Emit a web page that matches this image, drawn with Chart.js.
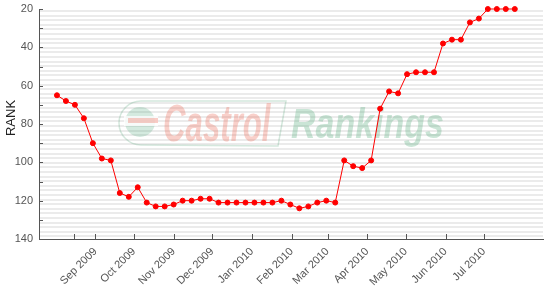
<!DOCTYPE html>
<html>
<head>
<meta charset="utf-8">
<script src="https://cdn.jsdelivr.net/npm/chart.js@4.4.1/dist/chart.umd.min.js"></script>
<style>
  html, body { margin: 0; padding: 0; background: #fff; }
  canvas { display: block; }
</style>
</head>
<body>
<canvas id="rank" width="552" height="286"></canvas>
<script>
// weekly ranking snapshots
const weeks = [
  '2009-08-02','2009-08-09','2009-08-16','2009-08-23','2009-08-30',
  '2009-09-06','2009-09-13','2009-09-20','2009-09-27',
  '2009-10-04','2009-10-11','2009-10-18','2009-10-25',
  '2009-11-01','2009-11-08','2009-11-15','2009-11-22','2009-11-29',
  '2009-12-06','2009-12-13','2009-12-20','2009-12-27',
  '2010-01-03','2010-01-10','2010-01-17','2010-01-24','2010-01-31',
  '2010-02-07','2010-02-14','2010-02-21','2010-02-28',
  '2010-03-07','2010-03-14','2010-03-21','2010-03-28',
  '2010-04-04','2010-04-11','2010-04-18','2010-04-25',
  '2010-05-02','2010-05-09','2010-05-16','2010-05-23','2010-05-30',
  '2010-06-06','2010-06-13','2010-06-20','2010-06-27',
  '2010-07-04','2010-07-11','2010-07-18','2010-07-25'
];
const ranks = [
  65, 68, 70, 77, 90, 98, 99, 116, 118, 113,
  121, 123, 123, 122, 120, 120, 119, 119, 121, 121,
  121, 121, 121, 121, 121, 120, 122, 124, 123, 121,
  120, 121, 99, 102, 103, 99, 72, 63, 64, 54,
  53, 53, 53, 38, 36, 36, 27, 25, 20, 20, 20, 20
];

const xRange = ['2009-07-19', '2010-08-16'];
const xTickDates = ['2009-08-15','2009-09-01','2009-10-01','2009-11-01','2009-12-01','2010-01-01',
                    '2010-02-01','2010-03-01','2010-04-01','2010-05-01','2010-06-01','2010-07-01'];
const xTickLabels = ['', 'Sep 2009','Oct 2009','Nov 2009','Dec 2009','Jan 2010',
                     'Feb 2010','Mar 2010','Apr 2010','May 2010','Jun 2010','Jul 2010'];
const yTicks = [20, 40, 60, 80, 100, 120, 140];
const yMinorTicks = [30, 50, 70, 90, 110, 130];
const yTitle = 'RANK';

const toDay = s => Date.parse(s) / 86400000;
const FONT = "'Liberation Sans', Arial, sans-serif";

const backdrop = {
  id: 'backdrop',
  beforeDraw(chart) {
    const { ctx, chartArea: a } = chart;
    ctx.save();
    ctx.fillStyle = '#fff';
    ctx.fillRect(a.left, a.top, a.right - a.left, a.bottom - a.top);
    ctx.fillStyle = '#ebebeb';
    for (let yy = a.top + 1; yy < a.bottom; yy += 4.6) {
      ctx.fillRect(a.left, Math.round(yy), a.right - a.left, 2);
    }
    // faint watermark logo
    ctx.strokeStyle = 'rgba(60,150,100,0.22)';
    ctx.lineWidth = 1.5;
    ctx.beginPath();
    ctx.arc(141, 123, 22, Math.PI * 0.5, Math.PI * 1.5);
    ctx.lineTo(286, 101);
    ctx.lineTo(278, 146);
    ctx.lineTo(141, 145);
    ctx.stroke();
    ctx.fillStyle = 'rgba(60,160,110,0.22)';
    ctx.beginPath();
    ctx.arc(140, 122, 15, 0, Math.PI * 2);
    ctx.fill();
    ctx.fillStyle = 'rgba(255,255,255,0.8)';
    ctx.fillRect(124, 116, 34, 10);
    ctx.fillStyle = 'rgba(235,90,70,0.3)';
    ctx.fillRect(128, 118, 30, 5);
    ctx.font = 'italic bold 52px ' + FONT;
    ctx.textBaseline = 'alphabetic';
    ctx.fillStyle = 'rgba(236,110,90,0.32)';
    ctx.save(); ctx.translate(163, 141); ctx.scale(0.6, 1); ctx.fillText('Castrol', 0, 0); ctx.restore();
    ctx.font = 'italic bold 43px ' + FONT;
    ctx.fillStyle = 'rgba(80,170,120,0.3)';
    ctx.save(); ctx.translate(291, 138); ctx.scale(0.79, 1); ctx.fillText('Rankings', 0, 0); ctx.restore();
    ctx.restore();
  }
};

const innerTicks = {
  id: 'innerTicks',
  afterDraw(chart) {
    const { ctx, chartArea: a, scales: { x, y } } = chart;
    ctx.save();
    ctx.strokeStyle = '#555';
    ctx.lineWidth = 1;
    ctx.beginPath();
    x.ticks.forEach(t => {
      const px = Math.round(x.getPixelForValue(t.value)) + 0.5;
      ctx.moveTo(px, a.bottom); ctx.lineTo(px, a.bottom - 5);
    });
    y.ticks.forEach(t => {
      const py = Math.round(y.getPixelForValue(t.value)) + 0.5;
      ctx.moveTo(a.left, py); ctx.lineTo(a.left + 4, py);
    });
    ctx.stroke();
    // axis title
    ctx.fillStyle = '#222';
    ctx.font = '13px ' + FONT;
    ctx.textAlign = 'center';
    ctx.textBaseline = 'middle';
    ctx.translate(11, 118);
    ctx.rotate(-Math.PI / 2);
    ctx.fillText(yTitle, 0, 0);
    ctx.restore();
  }
};

new Chart(document.getElementById('rank').getContext('2d'), {
  type: 'line',
  data: {
    datasets: [{
      data: weeks.map((w, i) => ({ x: toDay(w), y: ranks[i] })),
      borderColor: '#ff0000',
      borderWidth: 1,
      backgroundColor: '#ff0000',
      pointRadius: 2.5,
      pointBorderWidth: 1,
      pointBackgroundColor: '#ff0000',
      pointBorderColor: '#ff0000',
      tension: 0,
      clip: 5
    }]
  },
  options: {
    responsive: false,
    animation: false,
    devicePixelRatio: 1,
    layout: { padding: { top: 9, right: 9, left: 0, bottom: 0 } },
    plugins: { legend: { display: false }, tooltip: { enabled: false } },
    scales: {
      x: {
        type: 'linear',
        min: toDay(xRange[0]),
        max: toDay(xRange[1]),
        afterBuildTicks: s => { s.ticks = xTickDates.map(d => ({ value: toDay(d) })); },
        afterFit: s => { s.height = 47; s.paddingLeft = 0; s.paddingRight = 0; },
        ticks: {
          autoSkip: false, minRotation: 45, maxRotation: 45, padding: 6,
          color: '#555', font: { size: 11, family: FONT },
          callback: (v, i) => xTickLabels[i]
        },
        grid: { display: false, drawTicks: false },
        border: { display: true, color: '#555', width: 1 }
      },
      y: {
        reverse: true,
        min: 20,
        max: 140,
        afterBuildTicks: s => {
          s.ticks = yTicks.concat(yMinorTicks).sort((p, q) => p - q).map(v => ({ value: v }));
        },
        afterFit: s => { s.width = 39; s.paddingTop = 0; s.paddingBottom = 0; },
        ticks: {
          autoSkip: false, padding: 6, color: '#555', font: { size: 11, family: FONT },
          callback: v => yTicks.includes(v) ? String(v) : ''
        },
        grid: { display: false, drawTicks: false },
        border: { display: true, color: '#555', width: 1 }
      }
    }
  },
  plugins: [backdrop, innerTicks]
});
</script>
</body>
</html>
